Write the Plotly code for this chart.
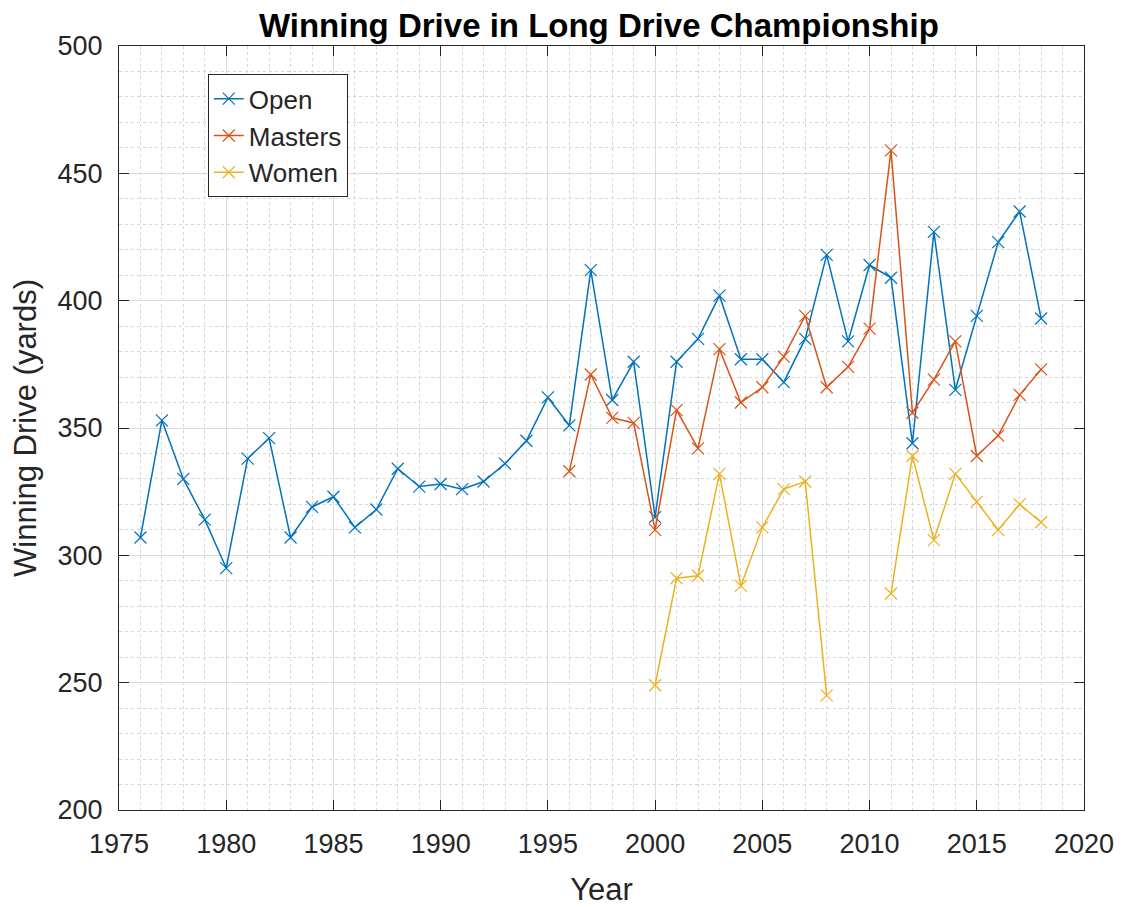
import plotly.graph_objects as go

years_open = list(range(1976, 2019))
open_vals = [307, 353, 330, 314, 295, 338, 346, 307, 319, 323, 311, 318, 334, 327, 328,
             326, 329, 336, 345, 362, 351, 412, 361, 376, 315, 376, 385, 402, 377, 377,
             368, 385, 418, 384, 414, 409, 344, 427, 365, 394, 423, 435, 393]

years_masters = list(range(1996, 2019))
masters_vals = [333, 371, 354, 352, 310, 357, 342, 381, 360, 366, 378, 394, 366, 374,
                389, 459, 356, 369, 384, 339, 347, 363, 373]

years_women = list(range(2000, 2019))
women_vals = [249, 291, 292, 332, 288, 311, 326, 329, 245, None, None, 285, 339, 306,
              332, 321, 310, 320, 313]

x_ticks = [1975, 1980, 1985, 1990, 1995, 2000, 2005, 2010, 2015, 2020]
y_ticks = [200, 250, 300, 350, 400, 450, 500]

series = [
    ("Open", years_open, open_vals, "#0072BD"),
    ("Masters", years_masters, masters_vals, "#D95319"),
    ("Women", years_women, women_vals, "#EDB120"),
]

FONT = "Liberation Sans, Arial, sans-serif"
AX = "#262626"

fig = go.Figure()
for name, xs, ys, col in series:
    fig.add_trace(go.Scatter(
        x=xs, y=ys, name=name, mode="lines+markers",
        line=dict(color=col, width=1.5),
        marker=dict(symbol="x-thin", size=12, color=col, line=dict(color=col, width=1.2)),
        connectgaps=False,
    ))

axis_common = dict(
    showline=True, linecolor=AX, linewidth=1, mirror="ticks",
    ticks="inside", ticklen=10, tickcolor=AX, tickwidth=1,
    showgrid=True, gridcolor="#dadada", gridwidth=1,
    zeroline=False, automargin=False,
    tickfont=dict(family=FONT, size=27, color=AX),
)

fig.update_xaxes(
    range=[1975, 2020], tickvals=x_ticks, ticklabelstandoff=10,
    title=dict(text="Year", font=dict(family=FONT, size=31, color=AX), standoff=24),
    minor=dict(dtick=1, tick0=1975, showgrid=True, griddash="dot", gridcolor="#d6d6d6", gridwidth=1, ticks=""),
    **axis_common,
)
fig.update_yaxes(
    range=[200, 500], tickvals=y_ticks, ticklabelstandoff=10,
    title=dict(text="Winning Drive (yards)", font=dict(family=FONT, size=31, color=AX), standoff=13),
    minor=dict(dtick=10, tick0=200, showgrid=True, griddash="dot", gridcolor="#d6d6d6", gridwidth=1, ticks=""),
    **axis_common,
)

W, H = 1117, 899
fig.update_layout(
    width=W, height=H,
    margin=dict(l=111, r=41, t=38, b=97),
    paper_bgcolor="white", plot_bgcolor="white",
    title=dict(text="<b>Winning Drive in Long Drive Championship</b>",
               font=dict(family=FONT, size=33, color="black"),
               x=0.529, xanchor="center", y=1 - 17 / H, yanchor="middle"),
    legend=dict(x=0.092, y=0.963, xanchor="left", yanchor="top",
                bgcolor="white", bordercolor=AX, borderwidth=1,
                font=dict(family=FONT, size=26, color=AX)),
)

fig.write_html("out.html")
